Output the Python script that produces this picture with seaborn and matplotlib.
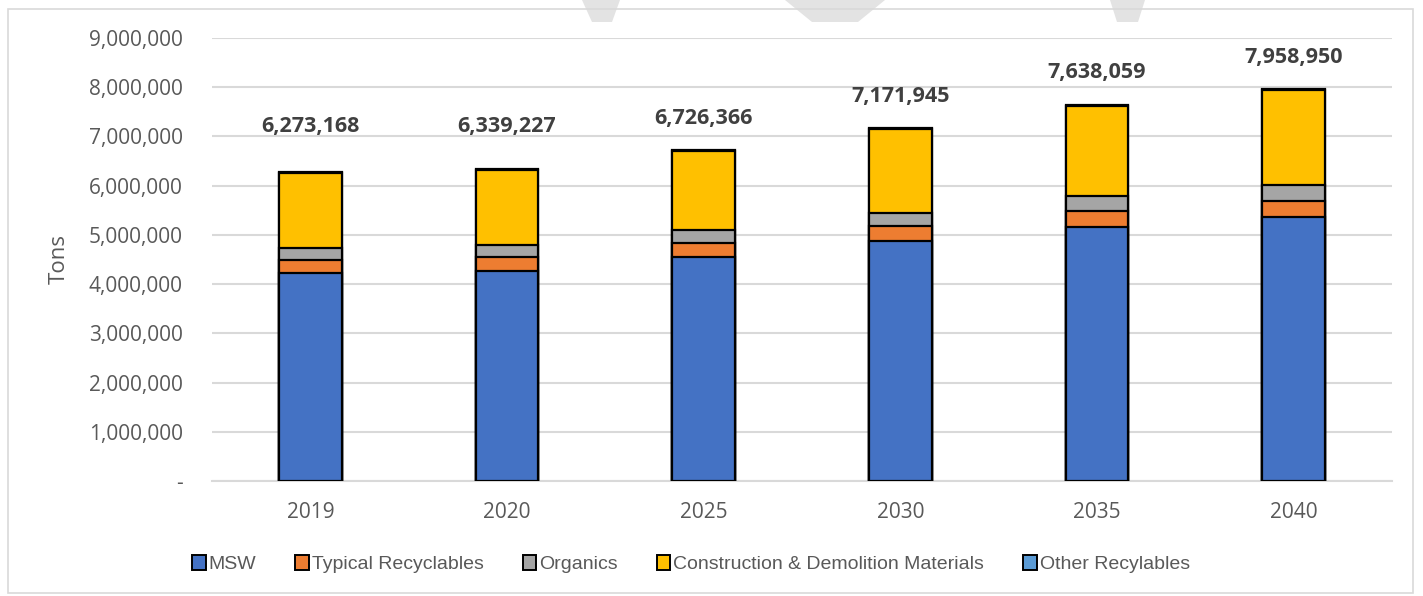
import matplotlib
matplotlib.use("Agg")
import matplotlib.pyplot as plt
import seaborn as sns
import pandas as pd
import numpy as np
from matplotlib.patches import Rectangle, Polygon
from matplotlib.ticker import FuncFormatter

years = ["2019", "2020", "2025", "2030", "2035", "2040"]
msw = [4226000, 4273000, 4557000, 4876000, 5167000, 5357000]
typical_recyclables = [264000, 278000, 278000, 299000, 325000, 338000]
organics = [244000, 238000, 258000, 270000, 292000, 313000]
other_recyclables = [18000, 18000, 18000, 18000, 18000, 18000]
totals = [6273168, 6339227, 6726366, 7171945, 7638059, 7958950]
cd_materials = [t - m - r - o - x for t, m, r, o, x in
                zip(totals, msw, typical_recyclables, organics, other_recyclables)]

series_names = ["MSW", "Typical Recyclables", "Organics",
                "Construction & Demolition Materials", "Other Recylables"]
series_values = [msw, typical_recyclables, organics, cd_materials, other_recyclables]
colors = ["#4472C4", "#ED7D31", "#A5A5A5", "#FFC000", "#5B9BD5"]
label_offsets = [0.92e6, 0.87e6, 0.63e6, 0.63e6, 0.67e6, 0.65e6]

sns.set_theme(style="white")
plt.rcParams["font.family"] = ["Open Sans", "DejaVu Sans"]

fig = plt.figure(figsize=(14.23, 5.96), dpi=100)
ax = fig.add_axes([212 / 1423, 1 - 481 / 596, 1180 / 1423, 443 / 596])

cum = np.cumsum(np.array(series_values), axis=0)
for i in range(len(series_names) - 1, -1, -1):
    df = pd.DataFrame({"Year": years, "Value": cum[i]})
    sns.barplot(data=df, x="Year", y="Value", color=colors[i], width=0.32,
                edgecolor="black", linewidth=1.6, saturation=1, ax=ax, zorder=3)

for i, (t, off) in enumerate(zip(totals, label_offsets)):
    ax.text(i, t + off, f"{t:,}", ha="center", va="center", fontsize=15.5,
            fontweight="bold", color="#404040")

ax.set_ylim(0, 9e6)
ax.set_xlim(-0.5, 5.5)
ax.set_yticks(np.arange(0, 9e6 + 1, 1e6))
ax.yaxis.set_major_formatter(FuncFormatter(lambda v, p: "-" if v == 0 else f"{int(v):,}"))
ax.grid(axis="y", color="#d9d9d9", linewidth=1.5, zorder=0)
ax.set_axisbelow(True)
for s in ["top", "right", "left"]:
    ax.spines[s].set_visible(False)
ax.spines["bottom"].set_color("#d9d9d9")
ax.spines["bottom"].set_linewidth(1.5)
ax.tick_params(axis="both", length=0, labelsize=15, colors="#595959")
ax.tick_params(axis="y", pad=21)
ax.tick_params(axis="x", pad=15)
ax.set_xlabel("")
ax.set_ylabel("Tons", fontsize=16, color="#595959", labelpad=14)

handles = [Rectangle((0, 0), 1, 1, facecolor=c, edgecolor="black", linewidth=1.4)
           for c in colors]
fig.legend(handles, series_names, loc="center", bbox_to_anchor=(691 / 1423, 1 - 564 / 596),
           ncol=5, frameon=False, handlelength=0.7, handleheight=0.8, handletextpad=0.15,
           columnspacing=2.0, prop={"family": "Liberation Sans", "size": 14},
           labelcolor="#595959")

# watermark shapes and frame
for pts in [[(582, 0), (620, 0), (612, 22), (592, 22)],
            [(785, 0), (885, 0), (858, 22), (812, 22)],
            [(1110, 0), (1145, 0), (1138, 22), (1117, 22)]]:
    fig.patches.append(Polygon([(x / 1423, 1 - y / 596) for x, y in pts], closed=True,
                               transform=fig.transFigure, facecolor="#e3e3e3",
                               edgecolor="none", zorder=0))
fig.patches.append(Rectangle((8 / 1423, 3 / 596), 1405 / 1423, 584 / 596,
                             transform=fig.transFigure, fill=False,
                             edgecolor="#d9d9d9", linewidth=1.2))

fig.savefig("out.png", dpi=100)
